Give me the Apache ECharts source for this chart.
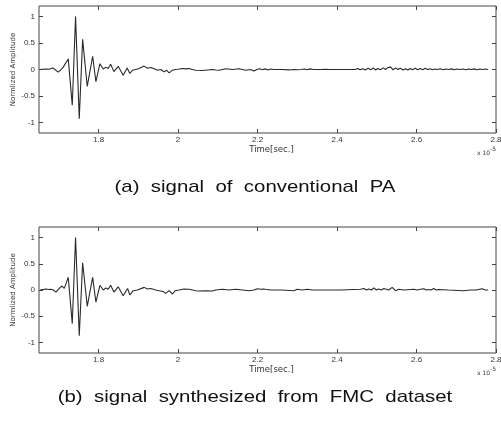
<!DOCTYPE html>
<html>
<head>
<meta charset="utf-8">
<script src="https://cdn.jsdelivr.net/npm/echarts@6/dist/echarts.min.js"></script>
<style>
html, body { margin: 0; padding: 0; background: #fff; }
#main { width: 501px; height: 426px; }
</style>
</head>
<body>
<div id="main"></div>
<script>
// time in units of 1e-5 s, normalized amplitude
var signalA = [
    [1.6526, 0], [1.660, 0.005], [1.668, 0.01], [1.675, 0.005], [1.6844, 0.03], [1.690, 0.0],
    [1.6985, -0.05], [1.704, -0.01], [1.711, 0.045], [1.7236, 0.2], [1.7337, -0.675], [1.742, 1.0],
    [1.7513, -0.93], [1.7598, 0.57], [1.7714, -0.32], [1.785, 0.25], [1.7932, -0.23], [1.8033, 0.11],
    [1.8116, 0.01], [1.8183, 0.045], [1.8241, 0.02], [1.8302, 0.10], [1.8385, -0.04], [1.8493, 0.06],
    [1.8618, -0.11], [1.8719, 0.03], [1.8787, -0.076], [1.8854, -0.013], [1.893, 0.0], [1.9005, 0.014],
    [1.9146, 0.064], [1.9231, 0.025], [1.9314, 0.038], [1.9397, 0.013], [1.9483, -0.013], [1.9566, 0.0],
    [1.9649, -0.045], [1.9709, -0.013], [1.9774, -0.064], [1.9860, -0.013], [1.9925, 0.0], [2.000, 0.005],
    [2.0111, 0.019], [2.0200, 0.012], [2.0277, 0.019], [2.0360, 0.0], [2.0445, -0.013], [2.0614, -0.02],
    [2.074, -0.01], [2.0865, 0.0], [2.095, -0.01], [2.1031, -0.013], [2.1199, 0.013], [2.1367, 0.0],
    [2.1533, 0.013], [2.1702, -0.013], [2.1820, 0.0], [2.1910, -0.03], [2.198, 0.0], [2.205, 0.015],
    [2.212, -0.005], [2.219, 0.012], [2.226, -0.008], [2.233, 0.01], [2.242, 0.0], [2.26, 0.0],
    [2.28, -0.008], [2.29, 0.0], [2.30, -0.005], [2.31, 0.0], [2.318, 0.01], [2.325, -0.005],
    [2.332, 0.012], [2.34, 0.0], [2.36, 0.0], [2.37, 0.006], [2.38, 0.0], [2.41, 0.0], [2.43, 0.0],
    [2.446, 0.0], [2.452, 0.02], [2.458, -0.005], [2.465, 0.015], [2.472, -0.01], [2.478, 0.025],
    [2.485, -0.005], [2.491, 0.03], [2.497, -0.01], [2.503, 0.02], [2.509, -0.005], [2.516, 0.03],
    [2.522, 0.0], [2.528, 0.035], [2.535, 0.045], [2.541, -0.005], [2.547, 0.03], [2.553, 0.0],
    [2.559, 0.025], [2.566, -0.01], [2.572, 0.015], [2.578, -0.008], [2.584, 0.02], [2.59, -0.005],
    [2.597, 0.025], [2.603, -0.005], [2.609, 0.02], [2.616, -0.005], [2.622, 0.025], [2.628, 0.0],
    [2.634, 0.015], [2.64, -0.005], [2.647, 0.01], [2.653, 0.0], [2.66, 0.015], [2.667, -0.005],
    [2.674, 0.01], [2.681, 0.0], [2.688, 0.012], [2.695, -0.005], [2.702, 0.01], [2.71, 0.0],
    [2.717, 0.01], [2.724, -0.005], [2.731, 0.008], [2.738, 0.0], [2.745, 0.012], [2.752, -0.005],
    [2.759, 0.01], [2.766, 0.0], [2.773, 0.008], [2.78, 0.0]
];

var signalB = [
    [1.6526, 0], [1.660, 0.01], [1.6676, 0.02], [1.674, 0.01], [1.680, 0.013], [1.686, 0.0],
    [1.6927, -0.04], [1.701, 0.03], [1.7078, 0.076], [1.7136, 0.03], [1.7236, 0.24], [1.7337, -0.64],
    [1.742, 1.0], [1.7513, -0.87], [1.7598, 0.52], [1.7714, -0.31], [1.785, 0.24], [1.7932, -0.23],
    [1.8033, 0.09], [1.8116, 0.0], [1.8183, 0.04], [1.8241, 0.015], [1.8302, 0.09], [1.8385, -0.04],
    [1.8493, 0.06], [1.8618, -0.11], [1.8729, 0.03], [1.8787, -0.096], [1.887, -0.013], [1.898, 0.0],
    [1.9146, 0.05], [1.9231, 0.02], [1.9314, 0.03], [1.944, 0.0], [1.9523, -0.013], [1.9623, -0.03],
    [1.9691, -0.064], [1.9774, -0.013], [1.986, -0.076], [1.9925, -0.013], [2.0025, 0.0], [2.0151, 0.02],
    [2.0277, 0.013], [2.0362, 0.0], [2.0445, -0.013], [2.0528, -0.02], [2.0696, -0.013], [2.0865, -0.02],
    [2.0948, 0.0], [2.1116, 0.013], [2.1282, 0.0], [2.145, 0.013], [2.1619, 0.0], [2.1785, -0.013],
    [2.191, 0.0], [2.1996, 0.025], [2.2079, 0.013], [2.214, 0.02], [2.2204, 0.013], [2.233, 0.0],
    [2.26, 0.0], [2.2915, -0.013], [2.3, 0.013], [2.3127, 0.0], [2.3252, 0.013], [2.3378, 0.0],
    [2.3963, 0.0], [2.4006, 0.025], [2.4089, 0.0], [2.4592, 0.013], [2.4675, 0.03], [2.474, 0.0],
    [2.48, 0.02], [2.4865, 0.0], [2.4926, 0.04], [2.499, 0.0], [2.5052, 0.02], [2.5115, 0.0],
    [2.5177, 0.03], [2.5303, 0.0], [2.5388, 0.05], [2.5471, -0.013], [2.5554, 0.013], [2.568, 0.0],
    [2.5931, 0.013], [2.6016, 0.0], [2.61, 0.015], [2.6182, 0.025], [2.6245, 0.0], [2.6308, 0.01],
    [2.637, 0.0], [2.6433, 0.03], [2.6496, 0.0], [2.6559, 0.01], [2.68, 0.0], [2.7187, -0.013],
    [2.7356, 0.0], [2.75, 0.0], [2.765, 0.025], [2.7733, 0.0], [2.78, 0.0]
];

var xTicks = [1.8, 2, 2.2, 2.4, 2.6, 2.8];
var yTicks = [-1, -0.5, 0, 0.5, 1];
var captions = ['(a)  signal  of  conventional  PA', '(b)  signal  synthesized  from  FMC  dataset'];

var FONT = '"Liberation Sans", Arial, sans-serif';
var WIDE = '"DejaVu Sans", sans-serif';
var BOX = '#444';
var grids = [
    { left: 39, top: 6, width: 457, height: 127 },
    { left: 39, top: 227, width: 457, height: 126 }
];

var chart = echarts.init(document.getElementById('main'));

var xAxes = [], yAxes = [], series = [], graphics = [];
grids.forEach(function (g, i) {
    var tick = { inside: true, length: 4, lineStyle: { color: BOX, width: 1 } };
    var noLine = { show: false, onZero: false };
    xAxes.push({
        type: 'value', gridIndex: i, min: 1.65, max: 2.8, position: 'bottom',
        name: 'Time[sec.]', nameLocation: 'middle', nameGap: 3,
        nameTextStyle: { fontFamily: WIDE, fontSize: 8.5, color: '#333', padding: [0, 0, 0, 8] },
        axisLine: noLine,
        axisTick: Object.assign({ customValues: xTicks }, tick),
        axisLabel: { customValues: xTicks, fontFamily: FONT, fontSize: 8, color: '#333', margin: 3 },
        splitLine: { show: false }
    });
    xAxes.push({
        type: 'value', gridIndex: i, min: 1.65, max: 2.8, position: 'top',
        axisLine: noLine,
        axisTick: Object.assign({ customValues: xTicks }, tick),
        axisLabel: { show: false, customValues: xTicks },
        splitLine: { show: false }
    });
    yAxes.push({
        type: 'value', gridIndex: i, min: -1.2, max: 1.2, position: 'left',
        name: 'Normlized Amplitude', nameLocation: 'middle', nameGap: 22, nameMoveOverlap: false,
        nameTextStyle: { fontFamily: WIDE, fontSize: 7, color: '#333' },
        axisLine: noLine,
        axisTick: Object.assign({ customValues: yTicks }, tick),
        axisLabel: { customValues: yTicks, fontFamily: FONT, fontSize: 8, color: '#333', margin: 4 },
        splitLine: { show: false }
    });
    yAxes.push({
        type: 'value', gridIndex: i, min: -1.2, max: 1.2, position: 'right',
        axisLine: noLine,
        axisTick: Object.assign({ customValues: yTicks }, tick),
        axisLabel: { show: false, customValues: yTicks },
        splitLine: { show: false }
    });
    series.push({
        type: 'line', xAxisIndex: i * 2, yAxisIndex: i * 2,
        data: i === 0 ? signalA : signalB,
        showSymbol: false, silent: true,
        lineStyle: { color: '#2a2a2a', width: 1.1 }
    });
    // x 10^-5 exponent note
    var by = g.top + g.height;
    graphics.push({
        type: 'text', left: 477, top: by + 17,
        style: { text: 'x 10', font: '6px ' + WIDE, fill: '#333' }
    });
    graphics.push({
        type: 'text', left: 490, top: by + 13,
        style: { text: '-5', font: '6px ' + WIDE, fill: '#333' }
    });
});

graphics.push({
    type: 'text', x: 255, y: 187, scaleX: 1.2,
    style: { text: captions[0], font: '17px ' + FONT, fill: '#111', align: 'center', verticalAlign: 'middle' }
});
graphics.push({
    type: 'text', x: 255, y: 397, scaleX: 1.2,
    style: { text: captions[1], font: '17px ' + FONT, fill: '#111', align: 'center', verticalAlign: 'middle' }
});

chart.setOption({
    animation: false,
    grid: grids.map(function (g) {
        return Object.assign({
            show: true, borderColor: BOX, borderWidth: 1, backgroundColor: 'transparent',
            outerBoundsMode: 'none', containLabel: false
        }, g);
    }),
    xAxis: xAxes,
    yAxis: yAxes,
    series: series,
    graphic: graphics
});
</script>
</body>
</html>
